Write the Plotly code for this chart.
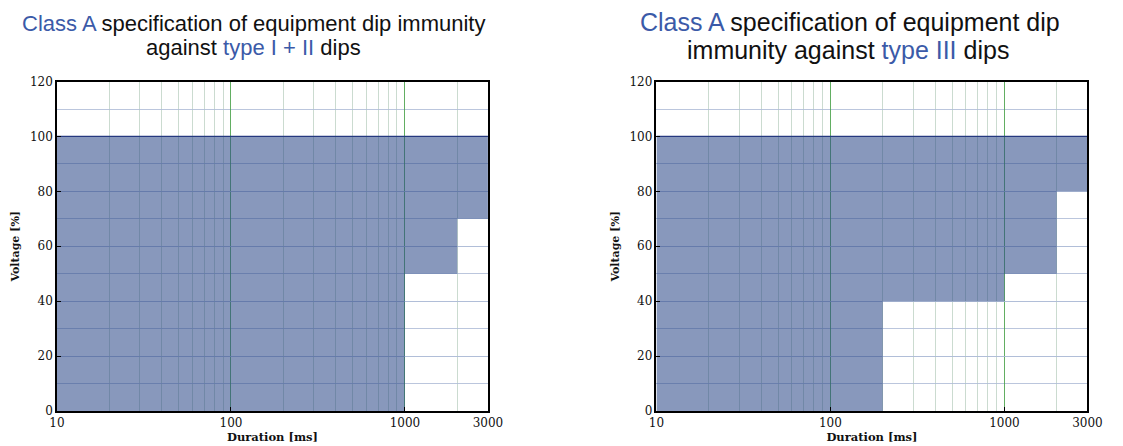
import plotly.graph_objects as go

# Class A dip-immunity envelopes: duration breakpoints [ms] and lower voltage bound [%]
duration_type12 = [10, 1000, 2000, 3000]
lower_type12 = [0, 50, 70, 70]
duration_type3 = [10, 200, 1000, 2000, 3000]
lower_type3 = [0, 40, 50, 80, 80]
upper_voltage = 100

x_ticks = [10, 100, 1000, 3000]
x_minor = [20, 30, 40, 50, 60, 70, 80, 90, 200, 300, 400, 500, 600, 700, 800, 900, 2000]
y_ticks = [0, 20, 40, 60, 80, 100, 120]

FILL = "rgba(42,72,135,0.56)"
EDGE = "rgba(25,45,120,0.9)"
BLUE = "#3b5aa8"
SERIF = "DejaVu Serif"

fig = go.Figure()

panels = [
    (duration_type12, lower_type12, "x", "y"),
    (duration_type3, lower_type3, "x2", "y2"),
]
for xs, lows, xa, ya in panels:
    fig.add_trace(go.Scatter(
        x=xs, y=lows, mode="lines", line=dict(width=0, shape="hv"),
        hoverinfo="skip", showlegend=False, xaxis=xa, yaxis=ya))
    fig.add_trace(go.Scatter(
        x=xs, y=[upper_voltage] * len(xs), mode="lines",
        line=dict(width=1.3, color=EDGE, shape="hv"),
        fill="tonexty", fillcolor=FILL,
        hoverinfo="skip", showlegend=False, xaxis=xa, yaxis=ya))

xaxis_style = dict(
    type="log", range=[1, 3.4771], tickvals=x_ticks, ticktext=[str(v) for v in x_ticks],
    showgrid=True, gridcolor="rgba(70,160,70,0.85)", gridwidth=1,
    minor=dict(tickvals=x_minor, showgrid=True, gridcolor="rgba(190,210,196,0.8)", gridwidth=1, ticks=""),
    showline=True, linecolor="black", linewidth=1.5, mirror=True,
    ticks="inside", ticklen=4, tickcolor="black",
    tickfont=dict(family=SERIF, size=12, color="#111"),
    title=dict(text="<b>Duration [ms]</b>", font=dict(family=SERIF, size=11.5, color="#111"), standoff=2),
    zeroline=False,
)
yaxis_style = dict(
    range=[0, 120], tickvals=y_ticks,
    showgrid=True, gridcolor="rgba(175,188,215,0.85)", gridwidth=1,
    minor=dict(dtick=10, showgrid=True, gridcolor="rgba(175,188,215,0.85)", gridwidth=1, ticks=""),
    showline=True, linecolor="black", linewidth=1.5, mirror=True,
    ticks="inside", ticklen=4, tickcolor="black",
    tickfont=dict(family=SERIF, size=12, color="#111"),
    title=dict(text="<b>Voltage [%]</b>", font=dict(family=SERIF, size=11, color="#111"), standoff=8),
    zeroline=False,
)

W, H = 1123, 446
y_dom = [1 - 417 / H, 1 - 77 / H]
fig.update_layout(
    width=W, height=H, margin=dict(l=0, r=0, t=0, b=0),
    paper_bgcolor="white", plot_bgcolor="white",
    xaxis=dict(domain=[50 / W, 490 / W], anchor="y", **xaxis_style),
    yaxis=dict(domain=y_dom, anchor="x", **yaxis_style),
    xaxis2=dict(domain=[662 / W, 1102 / W], anchor="y2", **xaxis_style),
    yaxis2=dict(domain=y_dom, anchor="x2", **yaxis_style),
)

# Two-line panel titles, one annotation per line: (x centre px, y centre px, size, text)
title_lines = [
    (251, 17.5, 22, f"<span style='color:{BLUE}'>Class A</span> specification of equipment dip immunity"),
    (251, 42, 22, f"against <span style='color:{BLUE}'>type I + II</span> dips"),
    (860, 15, 25, f"<span style='color:{BLUE}'>Class A</span> specification of equipment dip"),
    (858, 44, 25, f"immunity against <span style='color:{BLUE}'>type III</span> dips"),
]
for xc, yc, size, txt in title_lines:
    fig.add_annotation(text=txt, x=xc / W, y=1 - yc / H, xref="paper", yref="paper",
                       xanchor="center", yanchor="middle", showarrow=False,
                       font=dict(family="Liberation Sans", size=size, color="#111"))

fig.write_html("out.html")
